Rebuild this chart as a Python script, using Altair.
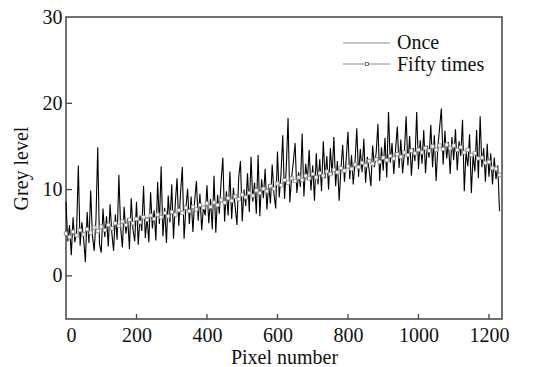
import altair as alt
import pandas as pd

# "Once" series: grey level every 5 pixels (0..1230)
once_step = 5
once_vals = [
    8.6, 4.0, 5.9, 2.4, 6.8, 3.9, 5.1, 12.8, 3.5, 6.2, 4.3, 1.6, 7.4, 3.8, 9.9, 4.6, 2.9, 6.5, 14.9, 3.7,
    2.7, 7.8, 4.5, 6.9, 3.4, 8.3, 5.0, 2.9, 7.1, 4.2, 11.7, 5.6, 3.3, 8.0, 4.9, 6.7, 3.1, 9.0, 5.4, 4.0,
    8.6, 3.6, 7.0, 5.2, 10.4, 4.4, 6.8, 3.9, 9.7, 5.5, 7.6, 4.1, 10.9, 6.0, 12.7, 4.6, 7.9, 3.8, 9.3, 6.2,
    10.6, 4.3, 8.4, 11.3, 5.8, 9.6, 12.6, 4.3, 7.8, 10.1, 6.0, 9.2, 5.1, 8.7, 11.0, 6.4, 9.5, 5.3, 8.0, 7.0,
    10.5, 6.1, 8.9, 5.4, 11.6, 5.0, 9.4, 7.2, 10.9, 13.7, 6.3, 9.8, 7.0, 12.1, 6.6, 10.2, 8.0, 5.9, 11.4, 13.3,
    6.3, 10.0, 8.1, 11.9, 7.4, 13.8, 8.6, 10.8, 7.2, 14.0, 6.9, 11.2, 9.0, 12.4, 7.7, 10.6, 8.4, 12.9, 9.5, 7.8,
    14.4, 9.1, 11.8, 16.3, 8.9, 12.6, 18.3, 8.5, 11.4, 13.2, 15.4, 9.6, 12.0, 10.3, 16.5, 9.2, 13.0, 11.1, 14.6, 9.9,
    12.8, 8.7, 14.2, 10.6, 13.5, 9.8, 15.6, 11.3, 13.9, 10.0, 14.8, 11.7, 16.1, 10.4, 13.3, 8.7, 12.4, 15.2, 10.9, 13.6,
    16.7, 11.2, 14.0, 10.6, 13.2, 17.1, 11.5, 14.7, 12.0, 15.9, 10.8, 13.8, 12.3, 10.4, 15.1, 12.6, 14.3, 17.6, 11.0, 14.9,
    12.2, 16.0, 11.4, 19.0, 13.1, 15.4, 11.8, 14.6, 17.3, 12.5, 15.8, 11.9, 14.2, 18.5, 12.8, 16.2, 11.6, 14.8, 13.3, 19.0,
    12.4, 15.7, 13.0, 16.9, 11.9, 15.1, 13.7, 17.5, 12.6, 16.3, 11.0, 14.9, 17.2, 19.4, 12.9, 16.8, 13.6, 15.5, 11.8, 16.1,
    13.4, 17.0, 12.2, 15.6, 13.9, 18.1, 9.8, 14.4, 12.7, 16.4, 9.6, 14.0, 12.1, 16.9, 11.3, 18.5, 12.6, 14.8, 10.9, 15.3,
    11.5, 14.2, 10.6, 13.7, 11.2, 12.8, 7.5,
]

# "Fifty times" series: grey level every 10 pixels (0..1230)
fifty_step = 10
fifty_vals = [
    4.9, 4.5, 5.1, 4.7, 5.3, 4.8, 5.4, 5.0, 5.6, 5.2,
    5.7, 5.3, 5.9, 5.5, 6.1, 5.8, 6.3, 5.9, 6.5, 6.1,
    6.6, 6.2, 6.8, 6.5, 7.0, 6.6, 7.1, 6.8, 7.3, 6.9,
    7.4, 7.1, 7.6, 7.3, 7.9, 7.5, 8.0, 7.7, 8.2, 7.9,
    8.4, 8.0, 8.5, 8.2, 8.8, 8.5, 9.0, 8.7, 9.2, 8.9,
    9.4, 9.1, 9.6, 9.3, 9.9, 9.6, 10.1, 9.8, 10.4, 10.1,
    10.7, 10.5, 11.1, 10.8, 11.3, 11.0, 11.4, 11.1, 11.6, 11.3,
    11.8, 11.4, 11.9, 11.6, 12.1, 11.8, 12.3, 12.0, 12.5, 12.2,
    12.7, 12.4, 12.9, 12.6, 13.1, 12.8, 13.3, 13.0, 13.5, 13.2,
    13.7, 13.4, 13.9, 13.6, 14.1, 13.8, 14.3, 14.0, 14.5, 14.2,
    14.6, 14.3, 14.8, 14.5, 15.0, 14.6, 15.1, 14.7, 15.2, 14.8,
    15.1, 14.6, 14.9, 14.3, 14.6, 14.0, 14.2, 13.6, 13.7, 13.1,
    13.2, 12.5, 12.4, 11.7,
]

x_ticks = [200, 400, 600, 800, 1000, 1200]
y_ticks = [0, 10, 20]
legend_labels = ["Once", "Fifty times"]

once_df = pd.DataFrame({"x": [i * once_step for i in range(len(once_vals))], "y": once_vals})
fifty_df = pd.DataFrame({"x": [i * fifty_step for i in range(len(fifty_vals))], "y": fifty_vals})
xt_df = pd.DataFrame({"x": x_ticks})
yt_df = pd.DataFrame({"y": y_ticks})
one = pd.DataFrame({"a": [0]})

FONT = "Liberation Serif"
W, H = 436, 302

xs = alt.Scale(domain=[0, 1237], nice=False, zero=False)
ys = alt.Scale(domain=[-5, 30], nice=False, zero=False)

x_axis = alt.Axis(values=[0, 200, 400, 600, 800, 1000, 1200], format="d", ticks=False, domain=False,
                  grid=False, labelPadding=6, title="Pixel number", titlePadding=2)
y_axis = alt.Axis(values=[0, 10, 20, 30], format="d", ticks=False, domain=False, grid=False,
                  labelPadding=4, title="Grey level", titlePadding=11)

once_line = alt.Chart(once_df).mark_line(color="#000000", strokeWidth=1.1).encode(
    x=alt.X("x:Q", scale=xs, axis=x_axis),
    y=alt.Y("y:Q", scale=ys, axis=y_axis),
)

fifty_line = alt.Chart(fifty_df).mark_line(color="#8a8a8a", strokeWidth=1.0).encode(
    x=alt.X("x:Q", scale=xs),
    y=alt.Y("y:Q", scale=ys),
)
fifty_pts = alt.Chart(fifty_df).mark_point(shape="square", size=12, filled=False,
                                           fill="white", fillOpacity=1, color="#808080",
                                           strokeWidth=0.8, opacity=1).encode(
    x=alt.X("x:Q", scale=xs),
    y=alt.Y("y:Q", scale=ys),
)

xticks = alt.Chart(xt_df).mark_rule(color="#444444", strokeWidth=1.3).encode(
    x=alt.X("x:Q", scale=xs),
    y=alt.value(H),
    y2=alt.value(H - 5),
)
yticks = alt.Chart(yt_df).mark_rule(color="#444444", strokeWidth=1.3).encode(
    y=alt.Y("y:Q", scale=ys),
    x=alt.value(0),
    x2=alt.value(6),
)

leg_line1 = alt.Chart(one).mark_rule(color="#8a8a8a", strokeWidth=1.0).encode(
    x=alt.value(277), x2=alt.value(324), y=alt.value(26))
leg_line2 = alt.Chart(one).mark_rule(color="#8a8a8a", strokeWidth=1.0).encode(
    x=alt.value(277), x2=alt.value(324), y=alt.value(47))
leg_mark = alt.Chart(one).mark_point(shape="square", size=9, fill="white", fillOpacity=1,
                                     color="#555555", strokeWidth=0.8, opacity=1).encode(
    x=alt.value(301), y=alt.value(47))
leg_text1 = alt.Chart(one).mark_text(align="left", baseline="middle", font=FONT, fontSize=20,
                                     color="#111111").encode(
    x=alt.value(331), y=alt.value(26), text=alt.value(legend_labels[0]))
leg_text2 = alt.Chart(one).mark_text(align="left", baseline="middle", font=FONT, fontSize=20,
                                     color="#111111").encode(
    x=alt.value(331), y=alt.value(48), text=alt.value(legend_labels[1]))

chart = alt.layer(
    once_line, fifty_line, fifty_pts, xticks, yticks,
    leg_line1, leg_line2, leg_mark, leg_text1, leg_text2,
).properties(
    width=W, height=H,
    autosize=alt.AutoSizeParams(type="none"),
    padding={"left": 66, "top": 17, "right": 41, "bottom": 48},
    background="white",
).configure_view(
    stroke="#444444", strokeWidth=1.5,
).configure_axis(
    labelFont=FONT, labelFontSize=20, labelColor="#111111",
    titleFont=FONT, titleFontSize=20, titleFontWeight="normal", titleColor="#111111",
)

chart.save("out.html", embed_options={"renderer": "svg", "actions": False})
